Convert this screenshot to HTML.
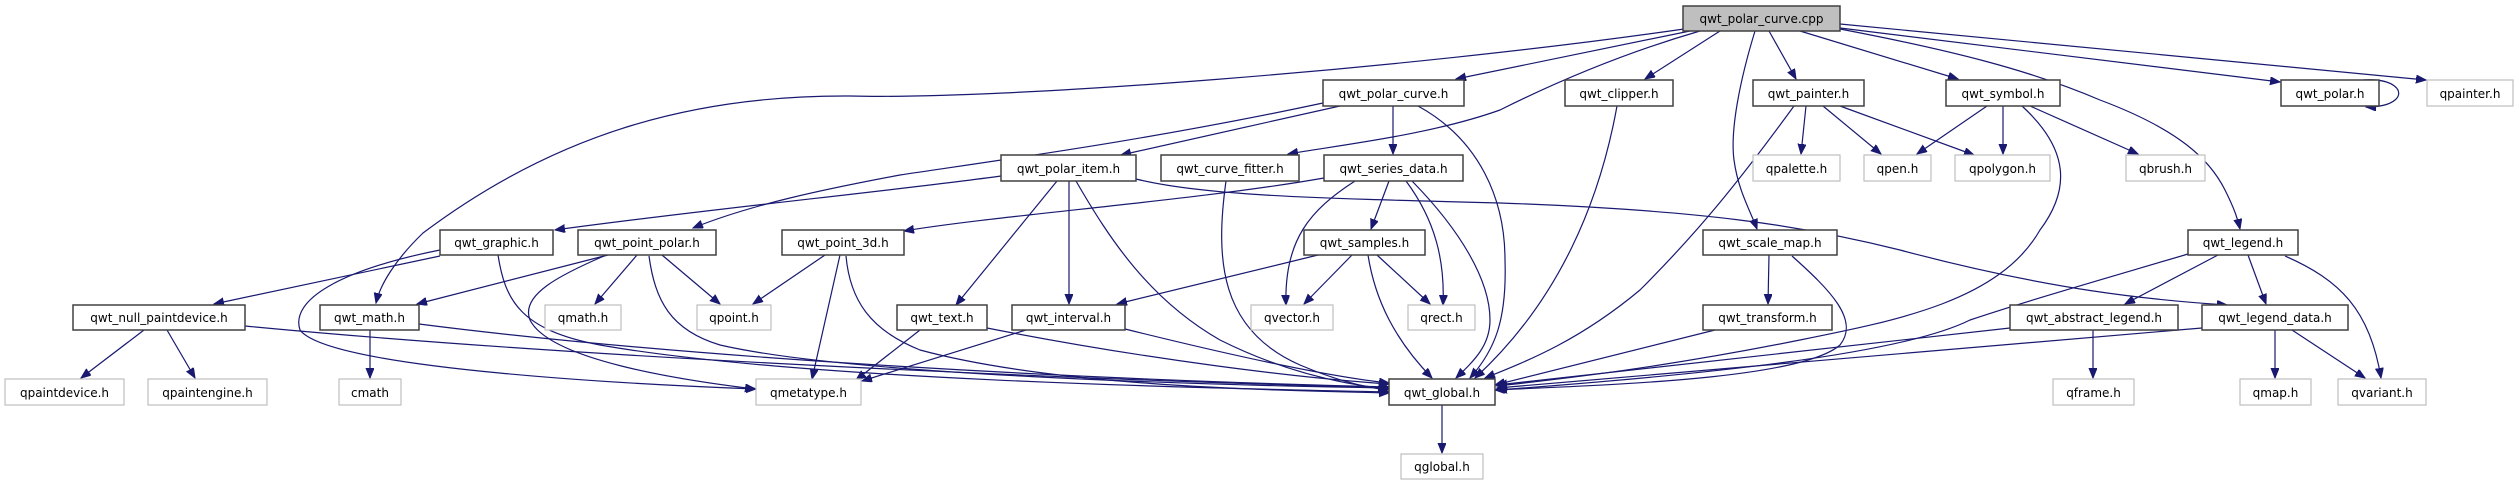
<!DOCTYPE html>
<html><head><meta charset="utf-8"><style>
html,body{margin:0;padding:0;background:#fff;}
svg{display:block;}
text{font-family:"DejaVu Sans","Liberation Sans",sans-serif;font-size:12px;fill:#000;}
.e{fill:none;stroke:#191970;stroke-width:1.2;marker-end:url(#a);}
.n rect{fill:#fff;stroke:#404040;stroke-width:1.5;}
.g rect{fill:#fff;stroke:#bfbfbf;stroke-width:1.2;}
</style></head><body>
<svg width="2519" height="485" viewBox="0 0 2519 485" xmlns="http://www.w3.org/2000/svg">
<defs><marker id="a" markerUnits="userSpaceOnUse" markerWidth="11" markerHeight="9" refX="10" refY="4" orient="auto"><path d="M0,0 L10,4 L0,8 z" fill="#191970" stroke="#191970"/></marker></defs>
<g>
<!-- from cpp -->
<path class="e" d="M1684,29 C1400,70 1000,100 850,96 C700,95 560,130 423,233 C395,260 380,285 376,303"/>
<path class="e" d="M1690,31 L1456,79"/>
<path class="e" d="M1700,31 C1600,60 1520,100 1500,110 C1430,135 1340,145 1288,154"/>
<path class="e" d="M1720,31 L1645,79"/>
<path class="e" d="M1755,31 C1740,80 1730,130 1734,160 C1738,190 1750,210 1757,229"/>
<path class="e" d="M1769,31 L1796,79"/>
<path class="e" d="M1800,31 L1958,79"/>
<path class="e" d="M1840,29 C1950,50 2030,70 2100,100 C2180,130 2210,160 2225,190 C2235,210 2238,220 2240,229"/>
<path class="e" d="M1840,28 L2280,82"/>
<path class="e" d="M1840,24 L2426,80"/>
<path class="e" d="M2363,80 C2395,78 2405,92 2395,100 C2388,106 2375,107 2366,107"/>
<!-- polar_curve -->
<path class="e" d="M1323,103 C1150,140 1000,160 900,175 C820,190 750,205 693,228"/>
<path class="e" d="M1340,106 L1121,155"/>
<path class="e" d="M1393,106 L1393,154"/>
<path class="e" d="M1418,106 C1480,140 1505,200 1505,260 C1507,320 1495,350 1470,378"/>
<!-- clipper -->
<path class="e" d="M1617,106 C1600,200 1560,300 1475,378"/>
<!-- painter -->
<path class="e" d="M1806,106 L1801,154"/>
<path class="e" d="M1823,106 L1881,154"/>
<path class="e" d="M1840,106 L1974,155"/>
<path class="e" d="M1794,106 C1740,180 1700,230 1640,290 C1580,340 1530,360 1485,378"/>
<!-- symbol -->
<path class="e" d="M1987,106 L1917,154"/>
<path class="e" d="M2003,106 L2003,154"/>
<path class="e" d="M2030,106 L2138,154"/>
<path class="e" d="M2022,106 C2070,150 2070,190 2040,230 C2000,300 1900,320 1800,340 C1650,370 1550,380 1497,386"/>
<!-- polar_item -->
<path class="e" d="M1001,176 C900,190 700,210 555,230"/>
<path class="e" d="M1136,179 C1200,195 1300,198 1500,203 C1700,210 1800,225 1900,250 C2050,290 2150,300 2227,305"/>
<path class="e" d="M1057,181 L956,305"/>
<path class="e" d="M1069,181 L1069,304"/>
<path class="e" d="M1076,181 C1110,240 1150,300 1220,340 C1290,375 1350,385 1388,389"/>
<!-- curve_fitter -->
<path class="e" d="M1226,181 C1215,260 1220,330 1300,365 C1340,382 1370,388 1388,390"/>
<!-- series_data -->
<path class="e" d="M1324,178 C1200,200 1000,215 904,231"/>
<path class="e" d="M1389,181 L1371,229"/>
<path class="e" d="M1355,181 C1310,210 1284,240 1286,305"/>
<path class="e" d="M1406,181 C1435,220 1445,260 1443,305"/>
<path class="e" d="M1412,181 C1460,230 1490,280 1490,320 C1490,345 1475,360 1456,378"/>
<!-- samples -->
<path class="e" d="M1318,255 L1117,304"/>
<path class="e" d="M1352,255 L1304,304"/>
<path class="e" d="M1377,255 L1430,304"/>
<path class="e" d="M1368,255 C1375,300 1395,340 1432,378"/>
<!-- graphic -->
<path class="e" d="M440,256 L214,304"/>
<path class="e" d="M440,250 C340,270 290,300 300,330 C330,370 650,385 756,389"/>
<path class="e" d="M498,255 C505,300 520,330 600,345 C800,380 1200,388 1389,392"/>
<!-- point_polar -->
<path class="e" d="M608,255 L417,304"/>
<path class="e" d="M637,255 L595,304"/>
<path class="e" d="M662,255 L720,304"/>
<path class="e" d="M604,256 C560,275 520,295 530,320 C550,360 680,380 755,389"/>
<path class="e" d="M649,256 C655,300 670,330 720,345 C850,375 1200,385 1389,388"/>
<!-- point_3d -->
<path class="e" d="M825,255 L753,304"/>
<path class="e" d="M840,255 L812,379"/>
<path class="e" d="M846,256 C850,300 870,330 920,350 C1050,385 1250,390 1389,393"/>
<!-- null_pd -->
<path class="e" d="M144,330 L81,378"/>
<path class="e" d="M167,330 L195,378"/>
<path class="e" d="M245,326 C600,360 1100,380 1389,388"/>
<!-- math -->
<path class="e" d="M370,330 L370,378"/>
<path class="e" d="M419,324 C700,360 1100,380 1389,387"/>
<!-- text -->
<path class="e" d="M920,330 L856,380"/>
<path class="e" d="M987,328 C1150,360 1300,378 1389,384"/>
<!-- interval -->
<path class="e" d="M1026,330 L862,381"/>
<path class="e" d="M1125,329 C1250,360 1340,378 1389,383"/>
<!-- global -->
<path class="e" d="M1442,405 L1442,453"/>
<!-- scale_map -->
<path class="e" d="M1769,255 L1768,304"/>
<path class="e" d="M1792,256 C1830,290 1860,320 1840,345 C1800,380 1600,385 1495,390"/>
<!-- transform -->
<path class="e" d="M1715,330 L1495,385"/>
<!-- legend -->
<path class="e" d="M2218,255 L2125,304"/>
<path class="e" d="M2248,255 L2266,304"/>
<path class="e" d="M2285,256 C2340,280 2370,310 2381,378"/>
<path class="e" d="M2188,254 C2100,280 2030,300 1970,320 C1900,355 1700,375 1497,390"/>
<!-- abstract legend -->
<path class="e" d="M2093,330 L2093,378"/>
<path class="e" d="M2010,328 L1497,385"/>
<!-- legend data -->
<path class="e" d="M2275,330 L2275,378"/>
<path class="e" d="M2292,330 L2365,378"/>
<path class="e" d="M2202,328 L1497,388"/>
</g>

<!-- nodes -->
<g class="n"><rect x="1683" y="6" width="157" height="25" style="fill:#bfbfbf"/><text x="1761.5" y="23" text-anchor="middle">qwt_polar_curve.cpp</text></g>

<g class="n"><rect x="1323" y="80" width="141" height="26"/><text x="1393.5" y="98" text-anchor="middle">qwt_polar_curve.h</text></g>
<g class="n"><rect x="1565" y="80" width="108" height="26"/><text x="1619" y="98" text-anchor="middle">qwt_clipper.h</text></g>
<g class="n"><rect x="1753" y="80" width="111" height="26"/><text x="1808.5" y="98" text-anchor="middle">qwt_painter.h</text></g>
<g class="n"><rect x="1946" y="80" width="114" height="26"/><text x="2003" y="98" text-anchor="middle">qwt_symbol.h</text></g>
<g class="n"><rect x="2281" y="80" width="98" height="26"/><text x="2330" y="98" text-anchor="middle">qwt_polar.h</text></g>
<g class="g"><rect x="2427" y="80" width="86" height="26"/><text x="2470" y="98" text-anchor="middle">qpainter.h</text></g>

<g class="n"><rect x="1001" y="155" width="135" height="26"/><text x="1068.5" y="173" text-anchor="middle">qwt_polar_item.h</text></g>
<g class="n"><rect x="1161" y="155" width="138" height="26"/><text x="1230" y="173" text-anchor="middle">qwt_curve_fitter.h</text></g>
<g class="n"><rect x="1324" y="155" width="139" height="26"/><text x="1393.5" y="173" text-anchor="middle">qwt_series_data.h</text></g>
<g class="g"><rect x="1753" y="155" width="87" height="26"/><text x="1796.5" y="173" text-anchor="middle">qpalette.h</text></g>
<g class="g"><rect x="1864" y="155" width="67" height="26"/><text x="1897.5" y="173" text-anchor="middle">qpen.h</text></g>
<g class="g"><rect x="1955" y="155" width="95" height="26"/><text x="2002.5" y="173" text-anchor="middle">qpolygon.h</text></g>
<g class="g"><rect x="2126" y="155" width="79" height="26"/><text x="2165.5" y="173" text-anchor="middle">qbrush.h</text></g>

<g class="n"><rect x="440" y="230" width="113" height="25"/><text x="496.5" y="247" text-anchor="middle">qwt_graphic.h</text></g>
<g class="n"><rect x="578" y="230" width="138" height="25"/><text x="647" y="247" text-anchor="middle">qwt_point_polar.h</text></g>
<g class="n"><rect x="782" y="230" width="122" height="25"/><text x="843" y="247" text-anchor="middle">qwt_point_3d.h</text></g>
<g class="n"><rect x="1304" y="230" width="121" height="25"/><text x="1364.5" y="247" text-anchor="middle">qwt_samples.h</text></g>
<g class="n"><rect x="1703" y="230" width="134" height="25"/><text x="1770" y="247" text-anchor="middle">qwt_scale_map.h</text></g>
<g class="n"><rect x="2188" y="230" width="110" height="25"/><text x="2243" y="247" text-anchor="middle">qwt_legend.h</text></g>

<g class="n"><rect x="73" y="305" width="172" height="25"/><text x="159" y="322" text-anchor="middle">qwt_null_paintdevice.h</text></g>
<g class="n"><rect x="320" y="305" width="99" height="25"/><text x="369.5" y="322" text-anchor="middle">qwt_math.h</text></g>
<g class="g"><rect x="545" y="305" width="76" height="25"/><text x="583" y="322" text-anchor="middle">qmath.h</text></g>
<g class="g"><rect x="697" y="305" width="74" height="25"/><text x="734" y="322" text-anchor="middle">qpoint.h</text></g>
<g class="n"><rect x="897" y="305" width="90" height="25"/><text x="942" y="322" text-anchor="middle">qwt_text.h</text></g>
<g class="n"><rect x="1012" y="305" width="113" height="25"/><text x="1068.5" y="322" text-anchor="middle">qwt_interval.h</text></g>
<g class="g"><rect x="1251" y="305" width="82" height="25"/><text x="1292" y="322" text-anchor="middle">qvector.h</text></g>
<g class="g"><rect x="1408" y="305" width="67" height="25"/><text x="1441.5" y="322" text-anchor="middle">qrect.h</text></g>
<g class="n"><rect x="1703" y="305" width="129" height="25"/><text x="1767.5" y="322" text-anchor="middle">qwt_transform.h</text></g>
<g class="n"><rect x="2010" y="305" width="168" height="25"/><text x="2094" y="322" text-anchor="middle">qwt_abstract_legend.h</text></g>
<g class="n"><rect x="2202" y="305" width="146" height="25"/><text x="2275" y="322" text-anchor="middle">qwt_legend_data.h</text></g>

<g class="g"><rect x="5" y="379" width="119" height="26"/><text x="64.5" y="397" text-anchor="middle">qpaintdevice.h</text></g>
<g class="g"><rect x="148" y="379" width="119" height="26"/><text x="207.5" y="397" text-anchor="middle">qpaintengine.h</text></g>
<g class="g"><rect x="339" y="379" width="62" height="26"/><text x="370" y="397" text-anchor="middle">cmath</text></g>
<g class="g"><rect x="756" y="379" width="105" height="26"/><text x="808.5" y="397" text-anchor="middle">qmetatype.h</text></g>
<g class="n"><rect x="1389" y="379" width="106" height="26"/><text x="1442" y="397" text-anchor="middle">qwt_global.h</text></g>
<g class="g"><rect x="2053" y="379" width="81" height="26"/><text x="2093.5" y="397" text-anchor="middle">qframe.h</text></g>
<g class="g"><rect x="2240" y="379" width="71" height="26"/><text x="2275.5" y="397" text-anchor="middle">qmap.h</text></g>
<g class="g"><rect x="2338" y="379" width="88" height="26"/><text x="2382" y="397" text-anchor="middle">qvariant.h</text></g>

<g class="g"><rect x="1401" y="454" width="82" height="25"/><text x="1442" y="471" text-anchor="middle">qglobal.h</text></g>
</svg>
</body></html>
